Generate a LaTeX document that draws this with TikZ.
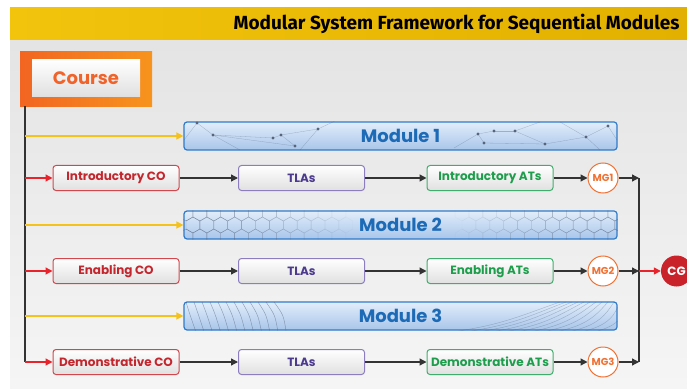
\documentclass[tikz,border=0pt]{standalone}
\usepackage{fontspec}
\setmainfont{Fira Sans}
\newfontfamily\boxfont{Poppins}
\usetikzlibrary{arrows.meta}

\definecolor{banner}{HTML}{F2C40C}
\definecolor{bannerdark}{HTML}{E2B000}
\definecolor{paneltop}{HTML}{E4E4E4}
\definecolor{panelbot}{HTML}{F5F5F5}
\definecolor{courseA}{HTML}{F26522}
\definecolor{courseB}{HTML}{F7941D}
\definecolor{coursetxt}{HTML}{F0642C}
\definecolor{cored}{HTML}{D2474E}
\definecolor{cotxt}{HTML}{C4262E}
\definecolor{tlaline}{HTML}{8C7CC0}
\definecolor{tlatxt}{HTML}{4B3A8E}
\definecolor{atline}{HTML}{3FAE6C}
\definecolor{attxt}{HTML}{1E9E4C}
\definecolor{mgorange}{HTML}{F07234}
\definecolor{cgred}{HTML}{C9222B}
\definecolor{modline}{HTML}{2F7AC9}
\definecolor{modtop}{HTML}{E2EDFA}
\definecolor{modbot}{HTML}{A8C5EA}
\definecolor{modtxt}{HTML}{1D6BB6}
\definecolor{arrdark}{HTML}{333333}
\definecolor{arryellow}{HTML}{F4C21B}
\definecolor{arrred}{HTML}{E8232B}
\definecolor{boxgray}{HTML}{E0E0E0}
\definecolor{patgray}{HTML}{56657C}

\tikzset{
	stepbox/.style={rounded corners=3pt, line width=1pt, top color=white, bottom color=boxgray,
		minimum width=126pt, minimum height=25pt, font=\boxfont\bfseries\fontsize{12}{12}\selectfont},
	cobox/.style={stepbox, draw=cored, text=cotxt},
	tlabox/.style={stepbox, draw=tlaline, text=tlatxt},
	atbox/.style={stepbox, draw=atline, text=attxt},
	mgnode/.style={circle, draw=mgorange, line width=1pt, fill=white, minimum size=30pt,
		inner sep=0pt, text=mgorange, font=\boxfont\bfseries\fontsize{10}{10}\selectfont},
	modbar/.style={draw=modline, line width=1.2pt, rounded corners=3pt, top color=modtop,
		bottom color=modbot, minimum width=433pt, minimum height=28pt, text=modtxt,
		font=\boxfont\bfseries\fontsize{18}{20}\selectfont},
	flow/.style={-{Triangle[length=7pt,width=7pt]}, line width=1.3pt, arrdark},
	yelarrow/.style={flow, arryellow},
	redarrow/.style={flow, arrred},
	trunkline/.style={line width=1.5pt, arrdark},
	netline/.style={patgray, line width=0.3pt, opacity=0.4},
	netdot/.style={patgray},
	hexline/.style={patgray, line width=0.4pt},
	curveline/.style={patgray, line width=0.4pt, opacity=0.6}
}

\begin{document}
\begin{tikzpicture}[x=1pt, y=-1pt]
	%\draw[help lines, step=10] (0,0) grid (687,390);
	\useasboundingbox (0,0) rectangle (687,390);
	\fill[white] (0,0) rectangle (687,390);
	\shade[top color=paneltop, bottom color=panelbot] (10,40) rectangle (687,388);
	\shade[left color=banner, right color=bannerdark] (10,8) rectangle (687,40);
	\node[anchor=east, font=\bfseries\fontsize{19}{20}\selectfont] (title) at (683,24)
		{Modular System Framework for Sequential Modules};

	% course
	\node[minimum width=132pt, minimum height=55pt, left color=courseA, right color=courseB] (course) at (86,79) {};
	\node[minimum width=108pt, minimum height=37pt, top color=white, bottom color=boxgray,
		text=coursetxt, font=\boxfont\bfseries\fontsize{18}{20}\selectfont] (coursein) at (86,78) {Course};

	% modules
	\node[modbar] (m1) at (400.5,136) {Module 1};
	\node[modbar] (m2) at (400.5,225) {Module 2};
	\node[modbar] (m3) at (400.5,316) {Module 3};

	\begin{scope}
		\clip[rounded corners=3pt] (m1.south west) rectangle (m1.north east);
		\foreach \ax/\ay/\bx/\by in {184/140/197/123, 197/123/213/135, 213/135/273/138, 213/135/295/146,
			273/138/281/135, 281/135/295/146, 281/135/318/129, 318/129/335/121, 213/135/240/150,
			318/129/300/150, 454/148/478/134, 478/134/494/131, 478/134/484/143, 494/131/515/131,
			515/131/545/144, 484/143/545/144, 545/144/586/137, 586/137/608/126, 515/131/540/122,
			586/137/600/150, 608/126/617/140, 586/137/560/122}
			\draw[netline] (\ax,\ay) -- (\bx,\by);
		\foreach \px/\py in {197/123, 213/135, 273/138, 281/135, 295/146, 318/129,
			478/134, 484/143, 494/131, 515/131, 545/144, 586/137, 608/126}
			\fill[netdot] (\px,\py) circle (1.6);
	\end{scope}

	\begin{scope}
		\clip[rounded corners=3pt] (m2.south west) rectangle (m2.north east);
		\foreach \i in {0,...,11}
			\foreach \j in {0,1,2}{
				\pgfmathsetmacro{\hx}{186+\i*13.9+mod(\j,2)*6.95}
				\pgfmathsetmacro{\hy}{213+\j*12}
				\pgfmathsetmacro{\ho}{0.55-\i*0.045}
				\draw[hexline, opacity=\ho] (\hx,\hy) +(90:8) -- +(150:8) -- +(210:8)
					-- +(270:8) -- +(330:8) -- +(30:8) -- cycle;
				\pgfmathsetmacro{\hx}{462+\i*13.9+mod(\j,2)*6.95}
				\pgfmathsetmacro{\ho}{0.05+\i*0.04}
				\draw[hexline, opacity=\ho] (\hx,\hy) +(90:8) -- +(150:8) -- +(210:8)
					-- +(270:8) -- +(330:8) -- +(30:8) -- cycle;
			}
	\end{scope}

	\begin{scope}
		\clip[rounded corners=3pt] (m3.south west) rectangle (m3.north east);
		\foreach \k in {0,...,11}
			\draw[curveline] (186+\k*8,302) .. controls (190+\k*8.5,315) .. (196+\k*8.2,332);
		\foreach \k in {0,...,11}
			\draw[curveline, opacity=0.4] (450+\k*13,332) .. controls (500+\k*11,326) and (525+\k*9,314) .. (560+\k*6,302);
	\end{scope}

	% rows
	\node[cobox] (co1) at (116,178) {Introductory CO};
	\node[tlabox] (tla1) at (301.5,178) {TLAs};
	\node[atbox] (at1) at (490,178) {Introductory ATs};
	\node[mgnode] (mg1) at (603,178) {MG1};

	\node[cobox] (co2) at (116,271) {Enabling CO};
	\node[tlabox] (tla2) at (301.5,271) {TLAs};
	\node[atbox] (at2) at (490,271) {Enabling ATs};
	\node[mgnode] (mg2) at (603,271) {MG2};

	\node[cobox] (co3) at (116,362) {Demonstrative CO};
	\node[tlabox] (tla3) at (301.5,362) {TLAs};
	\node[atbox] (at3) at (490,362) {Demonstrative ATs};
	\node[mgnode] (mg3) at (603,362) {MG3};

	\node[circle, fill=cgred, minimum size=31pt, inner sep=0pt, text=white,
		font=\boxfont\bfseries\fontsize{12}{12}\selectfont] (cg) at (676.5,271) {CG};

	% connectors
	\coordinate (trunk) at (25,106);
	\coordinate (bus) at (639,178);
	\draw[trunkline] (trunk) -- (trunk |- co3);
	\draw[trunkline] (bus |- mg1) -- (bus |- mg3);
	\foreach \m in {m1,m2,m3}
		\draw[yelarrow] (trunk |- \m) -- (\m);
	\foreach \r in {1,2,3}{
		\draw[redarrow] (trunk |- co\r) -- (co\r);
		\draw[flow] (co\r) -- (tla\r);
		\draw[flow] (tla\r) -- (at\r);
		\draw[flow] (at\r) -- (mg\r);
		\draw[flow] (mg\r) -- (bus |- mg\r);
	}
	\draw[redarrow] (bus |- cg) -- (cg);
\end{tikzpicture}
\end{document}
